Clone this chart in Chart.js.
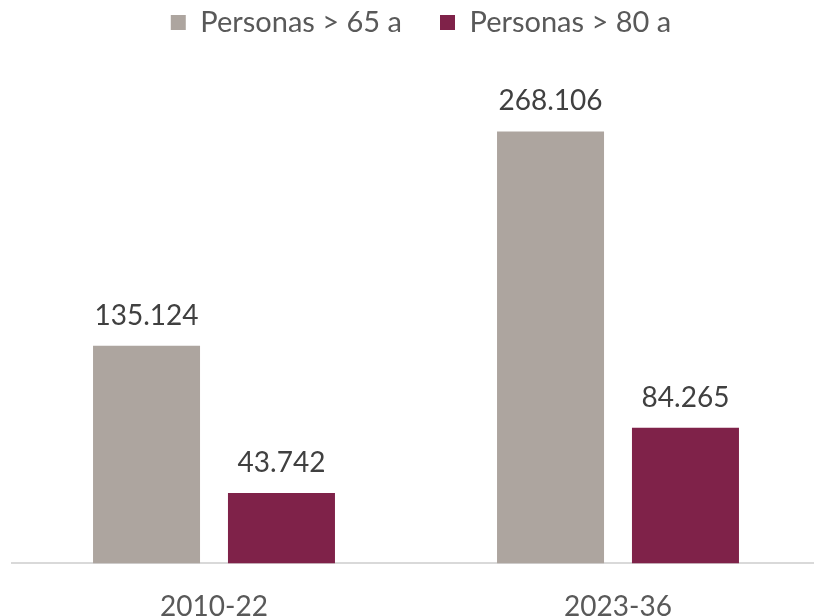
<!DOCTYPE html>
<html>
<head>
<meta charset="utf-8">
<script src="https://cdn.jsdelivr.net/npm/chart.js@4/dist/chart.umd.min.js"></script>
<style>
  html, body { margin: 0; padding: 0; background: #fff; overflow: hidden; }
  #wrap { position: relative; width: 832px; height: 650px; }
</style>
</head>
<body>
<div id="wrap"><canvas id="c"></canvas></div>
<script>
// values
const periods = ["2010-22", "2023-36"];
const over65 = [135124, 268106];
const over80 = [43742, 84265];
const seriesNames = ["Personas > 65 a", "Personas > 80 a"];

const GREY = "#ADA59F", WINE = "#7F2249";
const FONT = "Lato, 'Open Sans', sans-serif";

// thousands with a dot, Spanish style
const fmt = (v) => String(v).replace(/\B(?=(\d{3})+(?!\d))/g, ".");

// value labels above each bar
const barLabels = {
  id: "barLabels",
  afterDatasetsDraw(chart) {
    const ctx = chart.ctx;
    ctx.save();
    ctx.font = `28px ${FONT}`;
    ctx.fillStyle = "#404040";
    ctx.textAlign = "center";
    ctx.textBaseline = "bottom";
    chart.data.datasets.forEach((ds, i) => {
      chart.getDatasetMeta(i).data.forEach((bar, j) => {
        ctx.fillText(fmt(ds.data[j]), bar.x, bar.y - 16);
      });
    });
    ctx.restore();
  },
};

// nudge the legend a little right, like the original
const legendNudge = {
  id: "legendNudge",
  afterLayout(chart) {
    if (chart.legend) { chart.legend.left += 5; chart.legend.right += 5; }
  },
};

new Chart(document.getElementById("c"), {
  type: "bar",
  data: {
    labels: periods,
    datasets: [
      { label: seriesNames[0], data: over65, backgroundColor: GREY },
      { label: seriesNames[1], data: over80, backgroundColor: WINE },
    ],
  },
  options: {
    responsive: true, maintainAspectRatio: false, animation: false,
    layout: { padding: { left: 12, right: 12, top: -30, bottom: 7 } },
    datasets: { bar: { categoryPercentage: 0.668, barPercentage: 0.793 } },
    plugins: {
      legend: {
        position: "top",
        labels: { boxWidth: 15, boxHeight: 15, padding: 38, color: "#595959", font: { family: FONT, size: 29 } },
      },
      tooltip: { enabled: false },
    },
    scales: {
      x: {
        grid: { display: false },
        border: { display: true, color: "#D9D9D9", width: 2 },
        ticks: { color: "#595959", padding: 19, font: { family: FONT, size: 28 } },
      },
      y: { display: false, min: 0, max: 320500 },
    },
  },
  plugins: [barLabels, legendNudge],
});
</script>
</body>
</html>
